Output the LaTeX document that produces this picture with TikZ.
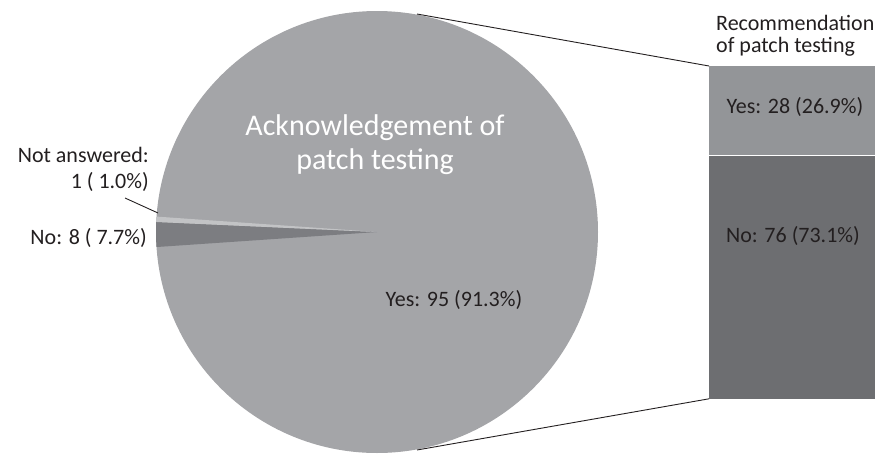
\documentclass[tikz,border=0pt]{standalone}
\usepackage{fontspec}
\setmainfont{Carlito}
\definecolor{pieyes}{HTML}{A4A5A8}
\definecolor{pieno}{HTML}{7C7D81}
\definecolor{piena}{HTML}{C2C3C5}
\definecolor{baryes}{HTML}{939598}
\definecolor{barno}{HTML}{6D6E71}
\definecolor{txt}{HTML}{231F20}
\begin{document}
\begin{tikzpicture}[x=1pt,y=1pt,
  lbl/.style={text=txt, font=\fontsize{22}{26}\selectfont, inner sep=0pt},
  big/.style={text=white, font=\fontsize{30}{34}\selectfont, inner sep=0pt},
  conn/.style={draw=txt, line width=0.9pt},
  barbox/.style={inner sep=0pt, minimum width=166pt, anchor=north west}]
\useasboundingbox (0,0) rectangle (895,-453);
\clip (0,0) rectangle (895,-453);
\coordinate (c) at (377,-232);
\fill[pieyes] (c) circle (221);
\fill[pieno] (c) -- ++(177.4:221) arc (177.4:183.9:221) -- cycle;
\fill[piena] (c) -- ++(176.0:221) arc (176.0:177.4:221) -- cycle;
\coordinate (pt) at (417,-14);
\coordinate (pb) at (417,-450);
\node[barbox, fill=baryes, minimum height=89pt] (by) at (709,-66) {};
\node[barbox, fill=barno, minimum height=243pt] (bn) at (by.south west) {};
\draw[conn] (pt) -- (by.north west);
\draw[conn] (pb) -- (bn.south west);
% labels
\node[big] (ack1) at (375,-128) {Acknowledgement of};
\node[big] (ack2) at (375,-162) {patch testing};
\node[lbl] (yes95) at (454,-300) {Yes: 95 (91.3\%)};
\node[lbl, anchor=east] (na1) at (149,-155) {Not answered:};
\node[lbl, anchor=east] (na2) at (149,-182) {1 ( 1.0\%)};
\node[lbl, anchor=east] (no8) at (147,-238) {No: 8 ( 7.7\%)};
\coordinate (nal) at (158,-213);
\draw[conn] (125,-198) -- (nal);
\node[lbl, anchor=west] (rec1) at (716,-23) {Recommendation};
\node[lbl, anchor=west] (rec2) at (716,-47) {of patch testing};
\node[lbl] (yes28) at (795,-107) {Yes: 28 (26.9\%)};
\node[lbl] (no76) at (793,-236) {No: 76 (73.1\%)};
\end{tikzpicture}
\end{document}
